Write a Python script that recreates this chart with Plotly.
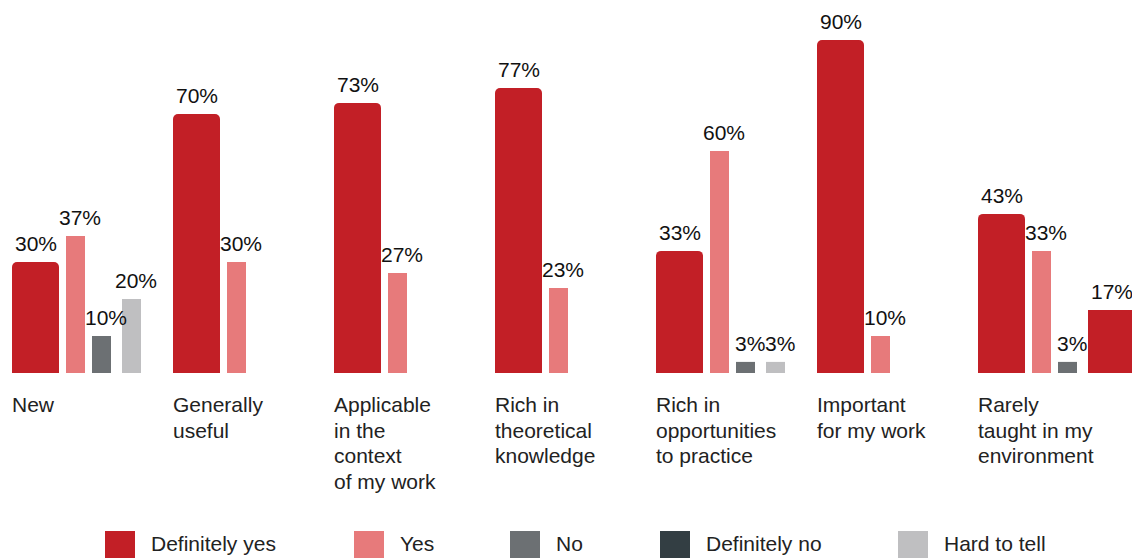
import plotly.graph_objects as go

# ---- data -------------------------------------------------------------
categories = [
    "New",
    "Generally useful",
    "Applicable in the context of my work",
    "Rich in theoretical knowledge",
    "Rich in opportunities to practice",
    "Important for my work",
    "Rarely taught in my environment",
]
category_labels = [
    "New",
    "Generally<br>useful",
    "Applicable<br>in the<br>context<br>of my work",
    "Rich in<br>theoretical<br>knowledge",
    "Rich in<br>opportunities<br>to practice",
    "Important<br>for my work",
    "Rarely<br>taught in my<br>environment",
]
definitely_yes = [30, 70, 73, 77, 33, 90, 43]
yes = [37, 30, 27, 23, 60, 10, 33]
no = [10, None, None, None, 3, None, 3]
definitely_no = [None, None, None, None, None, None, None]
hard_to_tell = [20, None, None, None, 3, None, 17]

# ---- styling ----------------------------------------------------------
W, H = 1132, 558
GROUP_PX = 161          # horizontal distance between category groups
FIRST_PX = 12           # left edge of the first group
TOP, BOTTOM = 3, 185    # plot margins
PLOT_H = H - TOP - BOTTOM
FONT = "Liberation Sans, Arial, Helvetica, sans-serif"
LINE_PX = 25.7          # line pitch of the category captions

C_DEF_YES = "#c21f26"
C_YES = "#e77a7b"
C_NO = "#6c7073"
C_DEF_NO = "#333e43"
C_HARD = "#bfbfc1"

# name, values, colour, offset in group (px), bar width (px)
series = [
    ("Definitely yes", definitely_yes, C_DEF_YES, 0, 47),
    ("Yes", yes, C_YES, 54, 19),
    ("No", no, C_NO, 80, 19),
    ("Definitely no", definitely_no, C_DEF_NO, 104, 19),
    ("Hard to tell", hard_to_tell, C_HARD, 110, 19),
]

x = list(range(len(categories)))
u = 1.0 / GROUP_PX      # one pixel in x-axis units

fig = go.Figure()
annotations = []
for name, vals, color, off, wid in series:
    colors = [color] * len(vals)
    widths = [wid] * len(vals)
    radius = 5 if name == "Definitely yes" else 0
    if name == "Hard to tell":
        # the last group's undecided share is emphasised as a wide red bar
        colors[-1] = C_DEF_YES
        widths[-1] = 47
    fig.add_trace(go.Bar(
        x=x, y=vals, name=name,
        offset=off * u, width=[w * u for w in widths],
        marker=dict(color=colors, line=dict(width=0), cornerradius=radius),
        hoverinfo="skip", showlegend=False,
    ))
    # percentage labels above each bar
    for xi, v, w in zip(x, vals, widths):
        if v is None:
            continue
        annotations.append(dict(
            x=xi + (off + w / 2) * u, y=v, xref="x", yref="y",
            xanchor="center", yanchor="bottom",
            xshift=0 if w > 30 else 4, yshift=5,
            showarrow=False, text=f"{v}%",
            font=dict(family=FONT, size=21, color="#111111"),
        ))

# category captions, left-aligned under each group, one line at a time
for xi, lab in zip(x, category_labels):
    for k, line in enumerate(lab.split("<br>")):
        annotations.append(dict(
            x=xi, y=0, xref="x", yref="y", xanchor="left", yanchor="top",
            xshift=-2, yshift=-18 - k * LINE_PX, align="left",
            showarrow=False, text=line,
            font=dict(family=FONT, size=21, color="#222222"),
        ))

# legend drawn as large swatches along the bottom
def px_x(p):
    return p / W

def px_y(p):
    return (H - BOTTOM - p) / PLOT_H

LEGEND_X_PX = [105, 354, 510, 660, 898]
SWATCH = 30
SWATCH_TOP = 531
shapes = []
for (name, _, color, _, _), lx in zip(series, LEGEND_X_PX):
    shapes.append(dict(
        type="rect", xref="paper", yref="paper",
        x0=px_x(lx), x1=px_x(lx + SWATCH),
        y0=px_y(SWATCH_TOP + SWATCH), y1=px_y(SWATCH_TOP),
        fillcolor=color, line=dict(width=0), layer="above",
    ))
    annotations.append(dict(
        x=px_x(lx + SWATCH + 14), y=px_y(H - 1),
        xref="paper", yref="paper", xanchor="left", yanchor="bottom",
        showarrow=False, text=name,
        font=dict(family=FONT, size=21, color="#222222"),
    ))

fig.update_layout(
    width=W, height=H,
    margin=dict(l=0, r=0, t=TOP, b=BOTTOM, pad=0),
    paper_bgcolor="white", plot_bgcolor="white",
    barmode="overlay",
    xaxis=dict(visible=False, range=[-FIRST_PX * u, (W - FIRST_PX) * u]),
    yaxis=dict(visible=False, range=[0, 100]),
    annotations=annotations, shapes=shapes,
    showlegend=False,
)

fig.write_html("out.html")
